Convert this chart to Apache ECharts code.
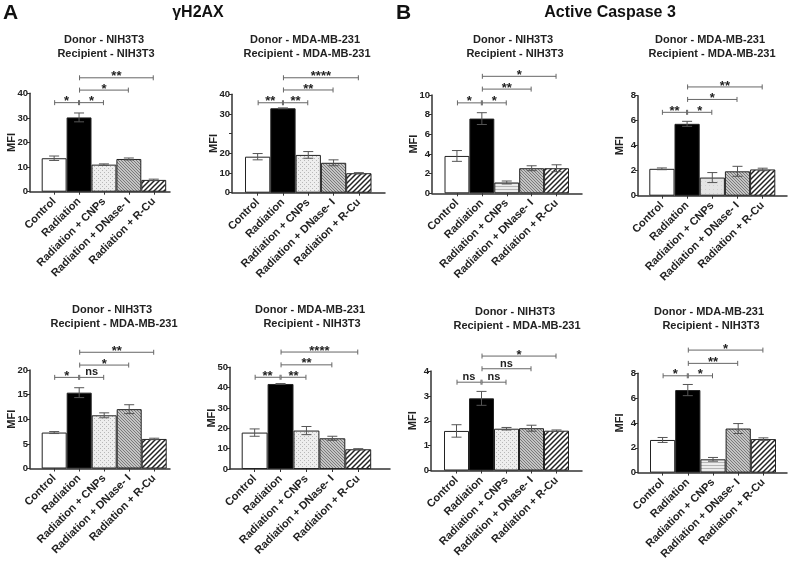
<!DOCTYPE html>
<html><head><meta charset="utf-8">
<script src="https://cdn.jsdelivr.net/npm/echarts@6/dist/echarts.min.js"></script>
<style>html,body{margin:0;padding:0;background:#fff}#c{width:790px;height:566px}</style>
</head><body><div id="c"></div>
<script>
// ---------- DATA ----------
const categories = ['Control', 'Radiation', 'Radiation + CNPs', 'Radiation + DNase- I', 'Radiation + R-Cu'];
const donors = ['Donor - NIH3T3', 'Donor - MDA-MB-231', 'Donor - NIH3T3', 'Donor - MDA-MB-231',
                'Donor - NIH3T3', 'Donor - MDA-MB-231', 'Donor - NIH3T3', 'Donor - MDA-MB-231'];
const recipients = ['Recipient - NIH3T3', 'Recipient - MDA-MB-231', 'Recipient - NIH3T3', 'Recipient - MDA-MB-231',
                    'Recipient - MDA-MB-231', 'Recipient - NIH3T3', 'Recipient - MDA-MB-231', 'Recipient - NIH3T3'];
const yMaxes = [40, 50, 10, 8, 20, 50, 4, 8];
const yIntervals = [10, 10, 2, 2, 5, 10, 1, 2];
// tick labels as printed in the figure (panel 2 prints 40/30/-/20/10/0 on its six ticks)
const p2TickLabels = ['0', '10', '20', '', '30', '40'];

const p1Values = [13.6, 30.2, 11.0, 13.3, 4.8];   const p1Errors = [0.9, 1.8, 0.3, 0.4, 0.3];
const p2Values = [18.3, 42.9, 19.2, 15.2, 9.9];   const p2Errors = [1.6, 0.2, 1.7, 1.5, 0.3];
const p3Values = [3.8, 7.6, 1.1, 2.55, 2.55];     const p3Errors = [0.55, 0.6, 0.15, 0.25, 0.35];
const p4Values = [2.15, 5.75, 1.45, 1.95, 2.1];   const p4Errors = [0.07, 0.2, 0.4, 0.4, 0.1];
const p5Values = [7.3, 15.4, 10.8, 12.05, 6.0];   const p5Errors = [0.2, 1.0, 0.5, 0.9, 0.15];
const p6Values = [17.9, 41.8, 18.9, 15.1, 9.7];   const p6Errors = [1.8, 0.2, 2.0, 1.0, 0.3];
const p7Values = [1.59, 2.9, 1.68, 1.7, 1.6];     const p7Errors = [0.25, 0.28, 0.05, 0.12, 0.03];
const p8Values = [2.63, 6.65, 1.07, 3.55, 2.7];   const p8Errors = [0.2, 0.45, 0.15, 0.4, 0.1];

// significance brackets: [from category, to category, height (MFI), label]
const p1Brackets = [[0,1,36.2,'*'],[1,2,36.2,'*'],[1,3,41.3,'*'],[1,4,46.3,'**']];
const p2Brackets = [[0,1,45.7,'**'],[1,2,45.7,'**'],[1,3,52.2,'**'],[1,4,58.4,'****']];
const p3Brackets = [[0,1,9.2,'*'],[1,2,9.2,'*'],[1,3,10.6,'**'],[1,4,11.9,'*']];
const p4Brackets = [[0,1,6.67,'**'],[1,2,6.67,'*'],[1,3,7.7,'*'],[1,4,8.7,'**']];
const p5Brackets = [[0,1,18.5,'*'],[1,2,18.5,'ns'],[1,3,21,'*'],[1,4,23.6,'**']];
const p6Brackets = [[0,1,45.1,'**'],[1,2,45.1,'**'],[1,3,51.2,'**'],[1,4,57.5,'****']];
const p7Brackets = [[0,1,3.55,'ns'],[1,2,3.55,'ns'],[1,3,4.09,'ns'],[1,4,4.6,'*']];
const p8Brackets = [[0,1,7.8,'*'],[1,2,7.8,'*'],[1,3,8.8,'**'],[1,4,9.87,'*']];

const allValues = [p1Values,p2Values,p3Values,p4Values,p5Values,p6Values,p7Values,p8Values];
const allErrors = [p1Errors,p2Errors,p3Errors,p4Errors,p5Errors,p6Errors,p7Errors,p8Errors];
const allBrackets = [p1Brackets,p2Brackets,p3Brackets,p4Brackets,p5Brackets,p6Brackets,p7Brackets,p8Brackets];

// ---------- LAYOUT (pixels) ----------
const layouts = [
  {axisX:30,  bar0:41.7, band:24.9, end:170, top:93.3,  bottom:191.7, cnp:'dots'},
  {axisX:232, bar0:245,  band:25.3, end:385, top:94.3,  bottom:192.7, cnp:'dots'},
  {axisX:432, bar0:444.5,band:24.9, end:582, top:95,    bottom:193.3, cnp:'hlines'},
  {axisX:638, bar0:649.3,band:25.2, end:787, top:95.7,  bottom:195.7, cnp:'plain'},
  {axisX:30,  bar0:41.7, band:25,   end:170, top:370,   bottom:468.5, cnp:'dots'},
  {axisX:230, bar0:241.7,band:25.9, end:390, top:367.3, bottom:469,   cnp:'dots'},
  {axisX:431, bar0:444,  band:25,   end:582, top:371,   bottom:470.5, cnp:'dots'},
  {axisX:638, bar0:650,  band:25.2, end:787, top:373.3, bottom:472.6, cnp:'hlines'}
];
const titlePos = [[104,40],[305,40],[513,40],[710,40],[112,310],[310,310],[515,312],[709,312]];

const FONT = '"Liberation Sans", Arial, Helvetica, sans-serif';

// ---------- PATTERNS ----------
function makePattern(kind){
  const c = document.createElement('canvas');
  let g;
  if (kind === 'dots') {
    c.width = 4; c.height = 4; g = c.getContext('2d');
    g.fillStyle = '#eeeeee'; g.fillRect(0,0,4,4);
    g.fillStyle = '#b8b8b8'; g.fillRect(0,0,1,1); g.fillRect(2,2,1,1);
  } else if (kind === 'hlines') {
    c.width = 4; c.height = 3; g = c.getContext('2d');
    g.fillStyle = '#ececec'; g.fillRect(0,0,4,3);
    g.fillStyle = '#b5b5b5'; g.fillRect(0,0,4,1);
  } else if (kind === 'plain') {
    c.width = 4; c.height = 4; g = c.getContext('2d');
    g.fillStyle = '#e4e4e4'; g.fillRect(0,0,4,4);
    g.fillStyle = '#d0d0d0'; g.fillRect(1,1,1,1);
  } else if (kind === 'dnase') {
    const s = 3; c.width = s; c.height = s; g = c.getContext('2d');
    g.fillStyle = '#c4c4c4'; g.fillRect(0,0,s,s);
    g.strokeStyle = '#7a7a7a'; g.lineWidth = 1;
    g.beginPath();
    g.moveTo(0,0); g.lineTo(s,s);
    g.moveTo(-1,s-1); g.lineTo(1,s+1);
    g.moveTo(s-1,-1); g.lineTo(s+1,1);
    g.stroke();
  } else if (kind === 'rcu') {
    const s = 5; c.width = s; c.height = s; g = c.getContext('2d');
    g.fillStyle = '#ffffff'; g.fillRect(0,0,s,s);
    g.strokeStyle = '#222'; g.lineWidth = 1.5;
    g.beginPath();
    g.moveTo(0,s); g.lineTo(s,0);
    g.moveTo(-1,1); g.lineTo(1,-1);
    g.moveTo(s-1,s+1); g.lineTo(s+1,s-1);
    g.stroke();
  }
  return {image: c, repeat: 'repeat'};
}
const pats = {dots:makePattern('dots'), hlines:makePattern('hlines'), plain:makePattern('plain'),
              dnase:makePattern('dnase'), rcu:makePattern('rcu')};

// ---------- BUILD OPTION ----------
const grid = [], xAxis = [], yAxis = [], series = [], graphic = [];
const idx = [0,1,2,3,4];

layouts.forEach((L, k) => {
  const c0 = L.bar0 + L.band/2;
  grid.push({left: L.axisX, top: L.top, width: L.end - L.axisX, height: L.bottom - L.top, containLabel: false});
  xAxis.push({
    type: 'value', gridIndex: k,
    min: (L.axisX - c0)/L.band, max: (L.end - c0)/L.band,
    axisLine: {show: true, onZero: false, lineStyle: {color: '#333', width: 1.5}},
    axisTick: {show: true, customValues: idx, length: 3, lineStyle: {color: '#333', width: 1}},
    axisLabel: {show: true, customValues: idx, rotate: 45, margin: 8, formatter: v => categories[Math.round(v)],
                fontFamily: FONT, fontWeight: 'bold', fontSize: 11, color: '#222'},
    splitLine: {show: false}
  });
  yAxis.push({
    type: 'value', gridIndex: k, min: 0, max: yMaxes[k], interval: yIntervals[k],
    name: 'MFI', nameLocation: 'middle', nameGap: 13, nameRotate: 90, nameMoveOverlap: false,
    nameTextStyle: {fontFamily: FONT, fontWeight: 'bold', fontSize: 11, color: '#222'},
    axisLine: {show: true, onZero: false, lineStyle: {color: '#333', width: 1.5}},
    axisTick: {show: true, length: 3, lineStyle: {color: '#333'}},
    axisLabel: {fontFamily: FONT, fontWeight: 'bold', fontSize: 9.5, color: '#222', margin: 2,
                formatter: k === 1 ? (v => p2TickLabels[Math.round(v / 10)]) : null},
    splitLine: {show: false}
  });
  const fills = ['#ffffff', '#000000', pats[L.cnp], pats.dnase, pats.rcu];
  series.push({
    type: 'bar', xAxisIndex: k, yAxisIndex: k, barCategoryGap: '0%',
    data: allValues[k].map((v, i) => ({value: [i, v], itemStyle: {color: fills[i]}})),
    itemStyle: {borderColor: '#222', borderWidth: 1},
    emphasis: {disabled: true}, animation: false, z: 2
  });
  series.push({
    type: 'custom', xAxisIndex: k, yAxisIndex: k, z: 3, animation: false, clip: false,
    data: allValues[k].map((v, i) => [i, v, allErrors[k][i]]),
    renderItem: (params, api) => {
      const i = api.value(0), v = api.value(1), e = api.value(2);
      const t = api.coord([i, v + e]), b = api.coord([i, v - e]);
      const cw = 5, st = {stroke: '#555', lineWidth: 1};
      return {type: 'group', children: [
        {type: 'line', shape: {x1: t[0], y1: t[1], x2: b[0], y2: b[1]}, style: st},
        {type: 'line', shape: {x1: t[0]-cw, y1: t[1], x2: t[0]+cw, y2: t[1]}, style: st},
        {type: 'line', shape: {x1: b[0]-cw, y1: b[1], x2: b[0]+cw, y2: b[1]}, style: st}
      ]};
    }
  });
  const br = allBrackets[k];
  series.push({
    type: 'custom', xAxisIndex: k, yAxisIndex: k, z: 4, animation: false, clip: false,
    data: br.map(b => [b[0], b[1], b[2]]),
    renderItem: (params, api) => {
      const a = api.coord([api.value(0), api.value(2)]);
      const b = api.coord([api.value(1), api.value(2)]);
      const lab = br[params.dataIndex][3];
      const star = lab.charAt(0) === '*';
      const st = {stroke: '#666', lineWidth: 1};
      const h = 2.5;
      return {type: 'group', children: [
        {type: 'line', shape: {x1: a[0]+0.5, y1: a[1], x2: b[0]-0.5, y2: b[1]}, style: st},
        {type: 'line', shape: {x1: a[0]+0.5, y1: a[1]-h, x2: a[0]+0.5, y2: a[1]+h}, style: st},
        {type: 'line', shape: {x1: b[0]-0.5, y1: b[1]-h, x2: b[0]-0.5, y2: b[1]+h}, style: st},
        {type: 'text', style: {text: lab, x: (a[0]+b[0])/2, y: a[1] - (star ? 1 : 5),
          align: 'center', verticalAlign: 'middle', fill: '#222',
          font: 'bold ' + (star ? 13 : 11) + 'px ' + FONT}}
      ]};
    }
  });
  graphic.push({type: 'text', x: titlePos[k][0], y: titlePos[k][1],
    style: {text: donors[k], align: 'center', verticalAlign: 'middle', fill: '#222', font: 'bold 11px ' + FONT}});
  graphic.push({type: 'text', x: titlePos[k][0] + 2, y: titlePos[k][1] + 13.5,
    style: {text: recipients[k], align: 'center', verticalAlign: 'middle', fill: '#222', font: 'bold 11px ' + FONT}});
});

graphic.push({type: 'text', x: 3, y: 13, style: {text: 'A', verticalAlign: 'middle', fill: '#111', font: 'bold 21px ' + FONT}});
graphic.push({type: 'text', x: 396, y: 13, style: {text: 'B', verticalAlign: 'middle', fill: '#111', font: 'bold 21px ' + FONT}});
graphic.push({type: 'text', x: 198, y: 13, style: {text: 'γH2AX', align: 'center', verticalAlign: 'middle', fill: '#111', font: 'bold 16px ' + FONT}});
graphic.push({type: 'text', x: 610, y: 13, style: {text: 'Active Caspase 3', align: 'center', verticalAlign: 'middle', fill: '#111', font: 'bold 16px ' + FONT}});

const chart = echarts.init(document.getElementById('c'), null, {renderer: 'canvas'});
chart.setOption({animation: false, backgroundColor: '#ffffff', grid, xAxis, yAxis, series, graphic});
</script></body></html>
